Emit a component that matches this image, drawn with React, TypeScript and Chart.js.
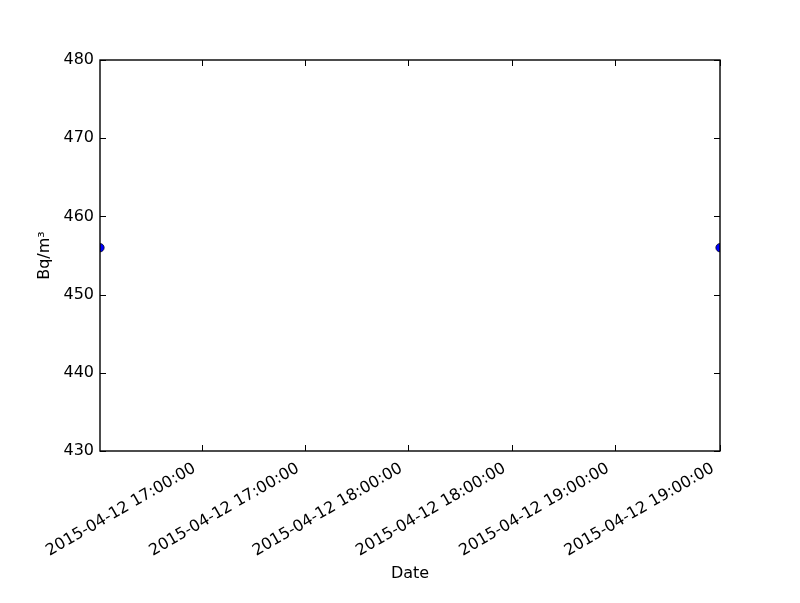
import React, { useEffect, useRef } from "react";
import { Chart, registerables } from "chart.js";

Chart.register(...registerables);

// Data: minutes after 16:30 on 2015-04-12
const xMinutes = [0, 180];
const yValues = [456, 456];
const xTickMinutes = [29.5, 59.5, 89.5, 119.5, 149.5, 180];
const xTickLabels = [
  "2015-04-12 17:00:00",
  "2015-04-12 17:00:00",
  "2015-04-12 18:00:00",
  "2015-04-12 18:00:00",
  "2015-04-12 19:00:00",
  "2015-04-12 19:00:00",
];
const yTicks = [430, 440, 450, 460, 470, 480];
const xTitle = "Date";
const yTitle = "Bq/m³";

const FONT = "'DejaVu Sans', sans-serif";

const framePlugin = {
  id: "mplFrame",
  afterDatasetsDraw(chart: any) {
    const { ctx, chartArea: a, scales } = chart;
    const L = 6;
    ctx.save();
    ctx.strokeStyle = "#000";
    ctx.lineWidth = 1;
    ctx.beginPath();
    for (const t of scales.y.ticks) {
      const py = Math.round(scales.y.getPixelForValue(t.value)) + 0.5;
      ctx.moveTo(a.left, py);
      ctx.lineTo(a.left + L, py);
      ctx.moveTo(a.right, py);
      ctx.lineTo(a.right - L, py);
    }
    for (const t of scales.x.ticks) {
      const px = Math.round(scales.x.getPixelForValue(t.value)) + 0.5;
      ctx.moveTo(px, a.bottom);
      ctx.lineTo(px, a.bottom - L);
      ctx.moveTo(px, a.top);
      ctx.lineTo(px, a.top + L);
    }
    ctx.stroke();
    ctx.lineWidth = 1.4;
    ctx.strokeRect(a.left, a.top, a.right - a.left, a.bottom - a.top);
    ctx.restore();
  },
};

export default function App() {
  const ref = useRef<HTMLCanvasElement | null>(null);

  useEffect(() => {
    if (!ref.current) return;
    Chart.defaults.font.family = FONT;
    Chart.defaults.font.size = 16;
    Chart.defaults.color = "#000";
    const chart = new Chart(ref.current, {
      type: "scatter",
      data: {
        datasets: [
          {
            data: xMinutes.map((x, i) => ({ x, y: yValues[i] })),
            backgroundColor: "#0000ff",
            borderColor: "#000000",
            borderWidth: 0.7,
            pointRadius: 4.2,
            showLine: false,
            clip: 0,
          } as any,
        ],
      },
      options: {
        animation: false,
        responsive: false,
        devicePixelRatio: 1,
        layout: { padding: { left: 0, top: 60, right: 80, bottom: 0 } },
        plugins: { legend: { display: false }, tooltip: { enabled: false } },
        scales: {
          x: {
            type: "linear",
            min: 0,
            max: 180,
            grid: { display: false, drawTicks: false },
            border: { display: false },
            afterBuildTicks: (scale: any) => {
              scale.ticks = xTickMinutes.map((v) => ({ value: v }));
            },
            afterFit: (scale: any) => {
              scale.height = 152;
            },
            ticks: {
              autoSkip: false,
              minRotation: 30,
              maxRotation: 30,
              padding: 8,
              labelOffset: -7,
              color: "#000",
              font: { size: 16, family: FONT },
              callback: (value: any) => {
                const i = xTickMinutes.indexOf(Number(value));
                return i >= 0 ? xTickLabels[i] : "";
              },
            },
            title: {
              display: true,
              text: xTitle,
              color: "#000",
              font: { size: 16, family: FONT },
              padding: { top: 0, bottom: 20 },
            },
          },
          y: {
            type: "linear",
            min: 430,
            max: 480,
            grid: { display: false, drawTicks: false },
            border: { display: false },
            afterBuildTicks: (scale: any) => {
              scale.ticks = yTicks.map((v) => ({ value: v }));
            },
            afterFit: (scale: any) => {
              scale.width = 100;
            },
            ticks: {
              padding: 6,
              color: "#000",
              font: { size: 16, family: FONT },
            },
            title: {
              display: true,
              text: yTitle,
              color: "#000",
              font: { size: 16, family: FONT },
              padding: { top: 35, bottom: 0 },
            },
          },
        },
      },
      plugins: [framePlugin],
    });
    return () => chart.destroy();
  }, []);

  return (
    <div style={{ position: "absolute", left: 0, top: 0, width: 800, height: 603, background: "#fff" }}>
      <canvas ref={ref} width={800} height={603} style={{ display: "block" }} />
    </div>
  );
}
